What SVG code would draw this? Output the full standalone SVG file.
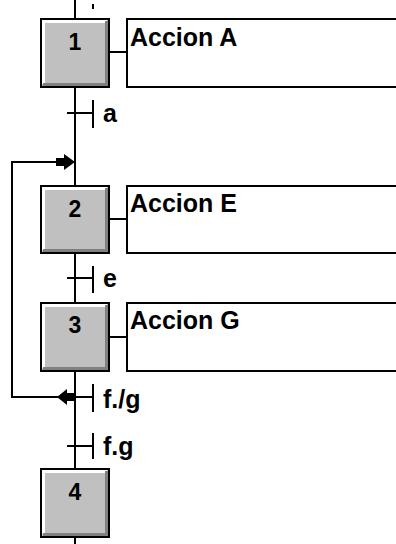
<svg xmlns="http://www.w3.org/2000/svg" width="396" height="544" viewBox="0 0 396 544">
<style>
.ln{stroke:#000;stroke-width:2;fill:none}
.sbox{fill:#c0c0c0;stroke:#000;stroke-width:2}
.hl{stroke:#fff;stroke-width:3;fill:none}
.sh{stroke:#808080;stroke-width:3;fill:none}
.abox{fill:#fff;stroke:#000;stroke-width:2}
.num{font-family:"Liberation Sans",Arial,sans-serif;font-weight:bold;font-size:23px;text-anchor:middle;fill:#000}
.txt{font-family:"Liberation Sans",Arial,sans-serif;font-weight:bold;font-size:25px;fill:#000}
.arr{fill:#000}
</style>
<rect width="396" height="544" fill="#fff"/>
<g id="connectors">
<line class="ln" x1="75" y1="0" x2="75" y2="544"/>
<rect x="92" y="4" width="2" height="5" fill="#000"/>
<line class="ln" x1="110" y1="52" x2="127" y2="52"/>
<line class="ln" x1="110" y1="219" x2="127" y2="219"/>
<line class="ln" x1="110" y1="337" x2="127" y2="337"/>
<polyline class="ln" points="93,397 12,397 12,162 72,162"/>
<polygon class="arr" points="56,158 64,158 64,154 75,162 64,170 64,166 56,166"/>
<polygon class="arr" points="75,393 67,393 67,389 57,397 67,405 67,401 75,401"/>
</g>
<g id="t_a">
<line class="ln" x1="67" y1="113" x2="93" y2="113"/>
<line class="ln" x1="93" y1="100" x2="93" y2="128"/>
<text class="txt" x="103" y="122">a</text>
</g>
<g id="t_e">
<line class="ln" x1="67" y1="278" x2="93" y2="278"/>
<line class="ln" x1="93" y1="266" x2="93" y2="293"/>
<text class="txt" x="103" y="287">e</text>
</g>
<g id="t_fng">
<line class="ln" x1="93" y1="384" x2="93" y2="412"/>
<text class="txt" x="103" y="408">f./g</text>
</g>
<g id="t_fg">
<line class="ln" x1="67" y1="446" x2="93" y2="446"/>
<line class="ln" x1="93" y1="433" x2="93" y2="459"/>
<text class="txt" x="103" y="455">f.g</text>
</g>
<g id="step1">
<rect class="sbox" x="41" y="19" width="68" height="68"/>
<polyline class="hl" points="43.5,84 43.5,21.5 107,21.5"/>
<polyline class="sh" points="43,84.5 106.5,84.5 106.5,21"/>
<text class="num" x="75" y="50">1</text>
</g>
<g id="action1">
<rect class="abox" x="127" y="19" width="280" height="68"/>
<text class="txt" x="130" y="46">Accion A</text>
</g>
<g id="step2">
<rect class="sbox" x="41" y="186" width="68" height="67"/>
<polyline class="hl" points="43.5,250 43.5,188.5 107,188.5"/>
<polyline class="sh" points="43,250.5 106.5,250.5 106.5,188"/>
<text class="num" x="75" y="217">2</text>
</g>
<g id="action2">
<rect class="abox" x="127" y="186" width="280" height="67"/>
<text class="txt" x="130" y="212">Accion E</text>
</g>
<g id="step3">
<rect class="sbox" x="41" y="303" width="68" height="68"/>
<polyline class="hl" points="43.5,368 43.5,305.5 107,305.5"/>
<polyline class="sh" points="43,368.5 106.5,368.5 106.5,305"/>
<text class="num" x="75" y="333">3</text>
</g>
<g id="action3">
<rect class="abox" x="127" y="303" width="280" height="68"/>
<text class="txt" x="130" y="329">Accion G</text>
</g>
<g id="step4">
<rect class="sbox" x="41" y="469" width="68" height="68"/>
<polyline class="hl" points="43.5,534 43.5,471.5 107,471.5"/>
<polyline class="sh" points="43,534.5 106.5,534.5 106.5,471"/>
<text class="num" x="75" y="500">4</text>
</g>
</svg>
